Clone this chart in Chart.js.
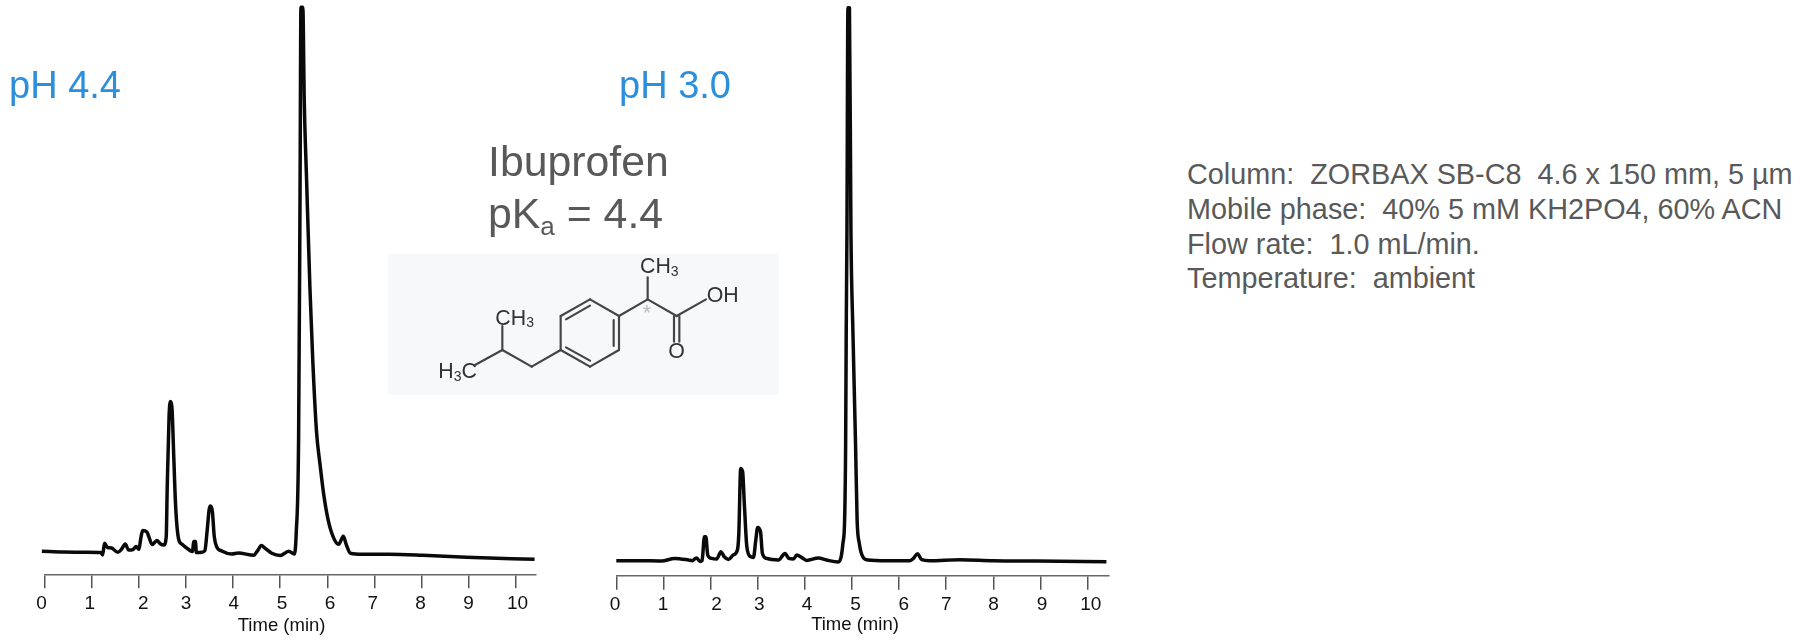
<!DOCTYPE html>
<html>
<head>
<meta charset="utf-8">
<title>Ibuprofen</title>
<script src="https://cdn.jsdelivr.net/npm/chart.js@4"></script>
<style>
    html, body { margin: 0; padding: 0; background: #fff; width: 1803px; height: 641px; overflow: hidden; }
    body { position: relative; font-family: "Liberation Sans", Arial, sans-serif; }
    .chart-box { position: absolute; top: 0; width: 560px; height: 641px; }
    .txt { position: absolute; white-space: pre; transform: translateY(-50%); line-height: 1.2; }
    .ph { font-size: 38px; color: #2b8fdc; }
    .big { font-size: 42.8px; color: #595959; }
    .big sub { font-size: 26px; line-height: 0; vertical-align: -7px; }
    .info { font-size: 28.8px; color: #595959; }
    .axis-title { font-size: 18.5px; color: #111; transform: translate(-50%, -50%); }
    #molecule { position: absolute; left: 380px; top: 240px; width: 410px; height: 160px; filter: blur(0.5px); }
    #molecule line { stroke: #444; stroke-width: 6.5; stroke-linecap: round; }
    #molecule text { font-family: "Liberation Sans", Arial, sans-serif; font-size: 64px; fill: #333; }
</style>
</head>
<body>
<div class="chart-box" style="left:0"><canvas id="chartPh44"></canvas></div>
<div class="chart-box" style="left:570px"><canvas id="chartPh30"></canvas></div>

<div class="txt ph" style="left:9px;top:86px">pH 4.4</div>
<div class="txt ph" style="left:619px;top:86px">pH 3.0</div>
<div class="txt big" style="left:488px;top:162px">Ibuprofen</div>
<div class="txt big" style="left:488px;top:214px">pK<sub>a</sub> = 4.4</div>

<div class="txt info" style="left:1187px;top:174px">Column:  ZORBAX SB-C8  4.6 x 150 mm, 5 µm</div>
<div class="txt info" style="left:1187px;top:208.5px">Mobile phase:  40% 5 mM KH2PO4, 60% ACN</div>
<div class="txt info" style="left:1187px;top:243.5px">Flow rate:  1.0 mL/min.</div>
<div class="txt info" style="left:1187px;top:278px">Temperature:  ambient</div>

<div class="txt axis-title" style="left:281.6px;top:625px">Time (min)</div>
<div class="txt axis-title" style="left:855px;top:624px">Time (min)</div>

<svg id="molecule" viewBox="0 0 1230 480">
    <rect x="24" y="42" width="1172" height="422" fill="#f7f8fa"/>
    <line x1="285" y1="375" x2="367" y2="330"/>
    <line x1="367" y1="330" x2="367" y2="258"/>
    <line x1="367" y1="330" x2="455" y2="380"/>
    <line x1="455" y1="380" x2="542" y2="330"/>
    <line x1="542" y1="330" x2="542" y2="228"/>
    <line x1="542" y1="228" x2="630" y2="178"/>
    <line x1="630" y1="178" x2="717" y2="228"/>
    <line x1="717" y1="228" x2="717" y2="330"/>
    <line x1="717" y1="330" x2="630" y2="380"/>
    <line x1="630" y1="380" x2="542" y2="330"/>
    <line x1="558" y1="238" x2="630" y2="197"/>
    <line x1="701" y1="240" x2="701" y2="318"/>
    <line x1="558" y1="322" x2="630" y2="362"/>
    <line x1="717" y1="228" x2="803" y2="178"/>
    <line x1="803" y1="178" x2="803" y2="112"/>
    <line x1="803" y1="178" x2="890" y2="228"/>
    <line x1="890" y1="228" x2="978" y2="178"/>
    <line x1="882" y1="228" x2="882" y2="305"/>
    <line x1="898" y1="228" x2="898" y2="305"/>
    <text x="780" y="100">CH<tspan font-size="42" dy="8">3</tspan></text>
    <text x="980" y="186">OH</text>
    <text x="865" y="354">O</text>
    <text x="346" y="254">CH<tspan font-size="42" dy="8">3</tspan></text>
    <text x="175" y="414">H<tspan font-size="42" dy="8">3</tspan><tspan dy="-8">C</tspan></text>
    <text x="788" y="240" style="fill:#bbb">*</text>
</svg>

<script>
const tickLabels = ['0', '1', '2', '3', '4', '5', '6', '7', '8', '9', '10'];

// retention time (min) / detector signal for the pH 4.4 run
const timePh44 = [
    -0.06, 0.40, 0.89, 1.19, 1.23, 1.27, 1.33, 1.42, 1.55, 1.63, 1.71, 1.78, 1.88, 1.94, 2.00, 2.04, 2.08, 2.17, 2.21, 2.28,
    2.38, 2.46, 2.53, 2.58, 2.60, 2.64, 2.67, 2.70, 2.74, 2.78, 2.84, 2.91, 3.05, 3.14, 3.16, 3.20, 3.22, 3.33, 3.40, 3.45,
    3.49, 3.52, 3.56, 3.60, 3.65, 3.76, 3.97, 4.11, 4.44, 4.52, 4.60, 4.68, 4.82, 5.00, 5.18, 5.30, 5.34, 5.39, 5.42, 5.44,
    5.48, 5.51, 5.56, 5.63, 5.69, 5.77, 5.85, 5.92, 6.01, 6.12, 6.24, 6.34, 6.40, 6.49, 6.75, 7.32, 8.03, 8.95, 10.40
];
const signalPh44 = [
    23, 22.3, 22, 21.7, 19.3, 31, 27, 26.3, 22, 25, 30.3, 24.3, 25, 27.7, 25, 36, 43.7, 42.3, 37.7, 29.7,
    33.7, 30.3, 29.3, 37.7, 84.3, 157.7, 172.7, 167.7, 117.7, 67.7, 36, 30.3, 25, 22.7, 32.7, 32.7, 21.7, 22, 23.7, 44.3,
    64.3, 68.3, 62.7, 37.7, 27.7, 23.3, 20.3, 21.3, 19, 23.7, 28.7, 26, 21, 18.7, 23, 20.3, 41.3, 135, 374, 567,
    567, 474, 394, 287, 215, 143, 108, 81, 56, 38, 30, 38, 30, 21, 20, 20, 19, 17, 15
];

// same column at pH 3.0
const timePh30 = [
    0, 0.47, 0.96, 1.24, 1.53, 1.61, 1.70, 1.78, 1.82, 1.87, 1.90, 1.94, 2.02, 2.13, 2.22, 2.29, 2.38, 2.48, 2.57, 2.60,
    2.64, 2.68, 2.72, 2.77, 2.85, 2.91, 2.96, 3.00, 3.06, 3.10, 3.19, 3.44, 3.58, 3.66, 3.76, 3.83, 3.93, 4.04, 4.29, 4.46,
    4.71, 4.77, 4.81, 4.845, 4.866, 4.879, 4.894, 4.915, 4.947, 4.979, 5.02, 5.078, 5.11, 5.155, 5.233, 5.34, 5.74, 6.23, 6.30, 6.39,
    6.48, 6.65, 7.29, 8.00, 8.92, 10.40
];
const signalPh30 = [
    15, 15, 14.7, 17.3, 15.7, 15, 17.7, 14.3, 15, 39, 39, 20.7, 17.3, 16.7, 24, 19, 16.3, 20.7, 25.7, 42.3,
    107.3, 104, 69, 29, 19, 18.3, 35.7, 48.3, 44, 22.3, 17.3, 15.7, 22.3, 17.3, 16.7, 20.7, 18.3, 15.3, 17.7, 15.7,
    13.7, 18.7, 32.7, 55.7, 128.7, 245.7, 342.7, 568, 568, 342.7, 245.7, 128.7, 55.7, 32.7, 18.7, 15.7, 15, 15, 17, 22,
    16, 15, 16, 15, 14.7, 14
];

// the tick labels in the source sit a little off their ticks
const labelShiftPh44 = [-3.2, -2, 4.3, 0, 0.7, 1.8, 2.7, -1.7, -1, 0, 1.7];
const labelShiftPh30 = [-1.3, -0.3, 6, 1.7, 2.3, 3.7, 4.7, 0, 0.3, 1.7, 3.3];

function makeChart(id, times, signal, opts) {
    const shiftLabels = {
        id: 'shiftLabels',
        afterUpdate(chart) {
            chart.scales.x.getLabelItems().forEach((item, i) => {
                item.options.translation[0] += opts.shifts[i] || 0;
            });
        }
    };
    return new Chart(document.getElementById(id), {
        type: 'scatter',
        data: {
            datasets: [{
                data: times.map((t, i) => ({ x: t, y: signal[i] })),
                showLine: true,
                borderColor: '#0a0a0a',
                borderWidth: 3.5,
                borderJoinStyle: 'round',
                borderCapStyle: 'butt',
                cubicInterpolationMode: 'monotone',
                pointRadius: 0,
                clip: false
            }]
        },
        options: {
            responsive: true,
            maintainAspectRatio: false,
            animation: false,
            layout: { padding: { left: opts.left, right: opts.right, top: 0, bottom: 0 } },
            plugins: { legend: { display: false }, tooltip: { enabled: false } },
            scales: {
                x: {
                    type: 'linear',
                    min: 0,
                    max: opts.xMax,
                    afterFit(scale) { scale.height = opts.axisHeight; },
                    border: { color: '#666', width: 1.5 },
                    grid: { drawOnChartArea: false, drawTicks: true, tickLength: 14, color: '#555', lineWidth: 1.5 },
                    ticks: {
                        stepSize: 1,
                        includeBounds: false,
                        autoSkip: false,
                        maxRotation: 0,
                        padding: 4,
                        color: '#111',
                        font: { family: '"Liberation Sans", Arial, sans-serif', size: 19 },
                        callback: (v, i) => tickLabels[i]
                    }
                },
                y: { display: false, min: 0, max: opts.yMax }
            }
        },
        plugins: [shiftLabels]
    });
}

makeChart('chartPh44', timePh44, signalPh44, { left: 44.7, right: 24, axisHeight: 66.7, xMax: 10.43, yMax: 574.3, shifts: labelShiftPh44 });
makeChart('chartPh30', timePh30, signalPh30, { left: 46.3, right: 21.7, axisHeight: 65.3, xMax: 10.44, yMax: 575.7, shifts: labelShiftPh30 });
</script>
</body>
</html>
